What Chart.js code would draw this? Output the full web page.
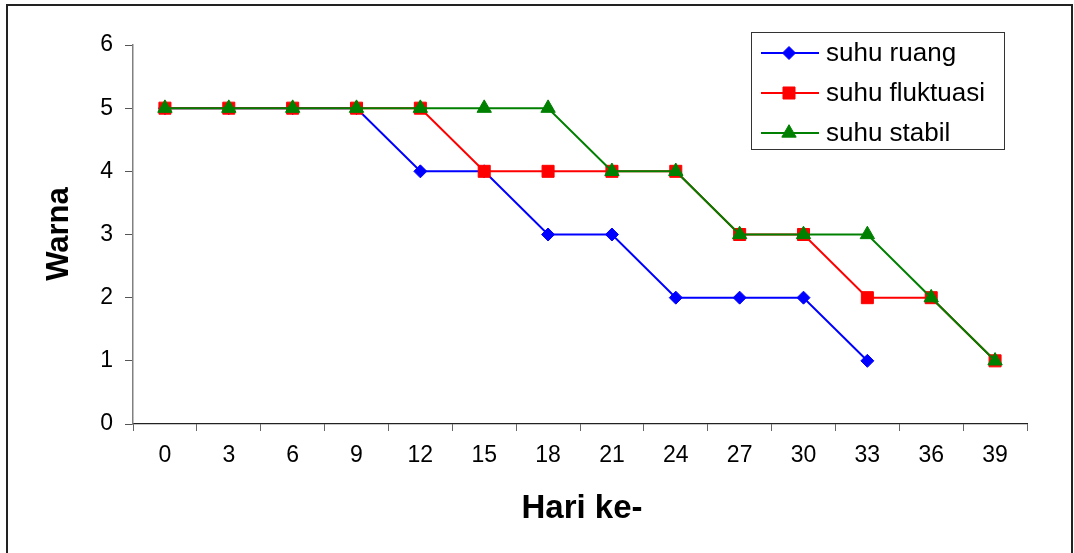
<!DOCTYPE html>
<html>
<head>
<meta charset="utf-8">
<script src="https://cdn.jsdelivr.net/npm/chart.js@4/dist/chart.umd.min.js"></script>
<style>
  html, body { margin: 0; padding: 0; background: #fff; }
  #wrap { width: 1074px; height: 553px; position: relative; }
</style>
</head>
<body>
<div id="wrap"><canvas id="c" width="1074" height="553"></canvas></div>
<script>
// Observation days and colour scores per storage condition
const days = ['0', '3', '6', '9', '12', '15', '18', '21', '24', '27', '30', '33', '36', '39'];
const suhuRuang     = [5, 5, 5, 5, 4, 4, 3, 3, 2, 2, 2, 1, null, null];
const suhuFluktuasi = [5, 5, 5, 5, 5, 4, 4, 4, 4, 3, 3, 2, 2, 1];
const suhuStabil    = [5, 5, 5, 5, 5, 5, 5, 4, 4, 3, 3, 3, 2, 1];
const yTicks = [0, 1, 2, 3, 4, 5, 6];

const FONT = '"Liberation Sans", Arial, sans-serif';

const seriesStyle = [
  { label: 'suhu ruang', data: suhuRuang, color: '#0000ff', pointStyle: 'rectRot', radius: 6.5, order: 3 },
  { label: 'suhu fluktuasi', data: suhuFluktuasi, color: '#ff0000', pointStyle: 'rect', radius: 8.5, order: 2 },
  { label: 'suhu stabil', data: suhuStabil, color: '#008000', pointStyle: 'triangle', radius: 8.3, order: 1 }
];

// Frame, axis titles and the boxed legend
const decorations = {
  id: 'decorations',
  afterDraw(chart) {
    const ctx = chart.ctx;
    ctx.save();
    // outer frame
    ctx.strokeStyle = '#222';
    ctx.lineWidth = 2;
    ctx.strokeRect(7, 5, 1065, 600);

    // axis titles
    ctx.fillStyle = '#000';
    ctx.font = 'bold 33px ' + FONT;
    ctx.textAlign = 'center';
    ctx.textBaseline = 'alphabetic';
    ctx.fillText('Hari ke-', 582, 518);
    ctx.font = 'bold 31px ' + FONT;
    ctx.save();
    ctx.translate(68, 234);
    ctx.rotate(-Math.PI / 2);
    ctx.fillText('Warna', 0, 0);
    ctx.restore();

    // legend box
    ctx.strokeStyle = '#333';
    ctx.lineWidth = 1;
    ctx.strokeRect(751.5, 32.5, 253, 117);
    const rows = [53, 93, 133];
    ctx.font = '26px ' + FONT;
    ctx.textAlign = 'left';
    ctx.textBaseline = 'middle';
    chart.data.datasets.forEach((ds, i) => {
      const y = rows[i];
      ctx.strokeStyle = ds.borderColor;
      ctx.lineWidth = 2;
      ctx.beginPath();
      ctx.moveTo(761, y);
      ctx.lineTo(819, y);
      ctx.stroke();
      ctx.fillStyle = ds.pointBackgroundColor;
      ctx.strokeStyle = ds.pointBorderColor;
      ctx.lineWidth = 1;
      Chart.helpers.drawPoint(ctx, {
        pointStyle: ds.pointStyle, radius: ds.pointRadius, rotation: 0, borderWidth: 1
      }, 789, y);
      ctx.fillStyle = '#000';
      ctx.fillText(ds.label, 826, y + 1);
    });
    ctx.restore();
  }
};

new Chart(document.getElementById('c'), {
  type: 'line',
  data: {
    labels: days,
    datasets: seriesStyle.map(s => ({
      label: s.label,
      data: s.data,
      borderColor: s.color,
      backgroundColor: s.color,
      pointBackgroundColor: s.color,
      pointBorderColor: s.color,
      pointStyle: s.pointStyle,
      pointRadius: s.radius,
      pointBorderWidth: 1,
      borderWidth: 2,
      tension: 0,
      spanGaps: false,
      order: s.order
    }))
  },
  options: {
    responsive: false,
    animation: false,
    layout: { padding: { top: 45, right: 47, left: 0, bottom: 0 } },
    plugins: {
      legend: { display: false },
      tooltip: { enabled: false }
    },
    scales: {
      x: {
        type: 'category',
        offset: true,
        grid: {
          offset: true,
          drawOnChartArea: false,
          drawTicks: true,
          tickLength: 7,
          color: '#666',
          lineWidth: 1
        },
        border: { display: true, color: '#222', width: 1.2 },
        ticks: {
          color: '#000',
          padding: 11,
          font: { family: FONT, size: 23 },
          maxRotation: 0,
          autoSkip: false
        },
        afterFit(scale) { scale.height = 129; }
      },
      y: {
        min: 0,
        max: 6,
        afterBuildTicks(scale) { scale.ticks = yTicks.map(v => ({ value: v })); },
        grid: {
          drawOnChartArea: false,
          drawTicks: true,
          tickLength: 8,
          color: '#555',
          lineWidth: 1
        },
        border: { display: true, color: '#808080', width: 1.5 },
        ticks: {
          color: '#000',
          padding: 12,
          font: { family: FONT, size: 23 }
        },
        afterFit(scale) { scale.width = 133; }
      }
    }
  },
  plugins: [decorations]
});
</script>
</body>
</html>
